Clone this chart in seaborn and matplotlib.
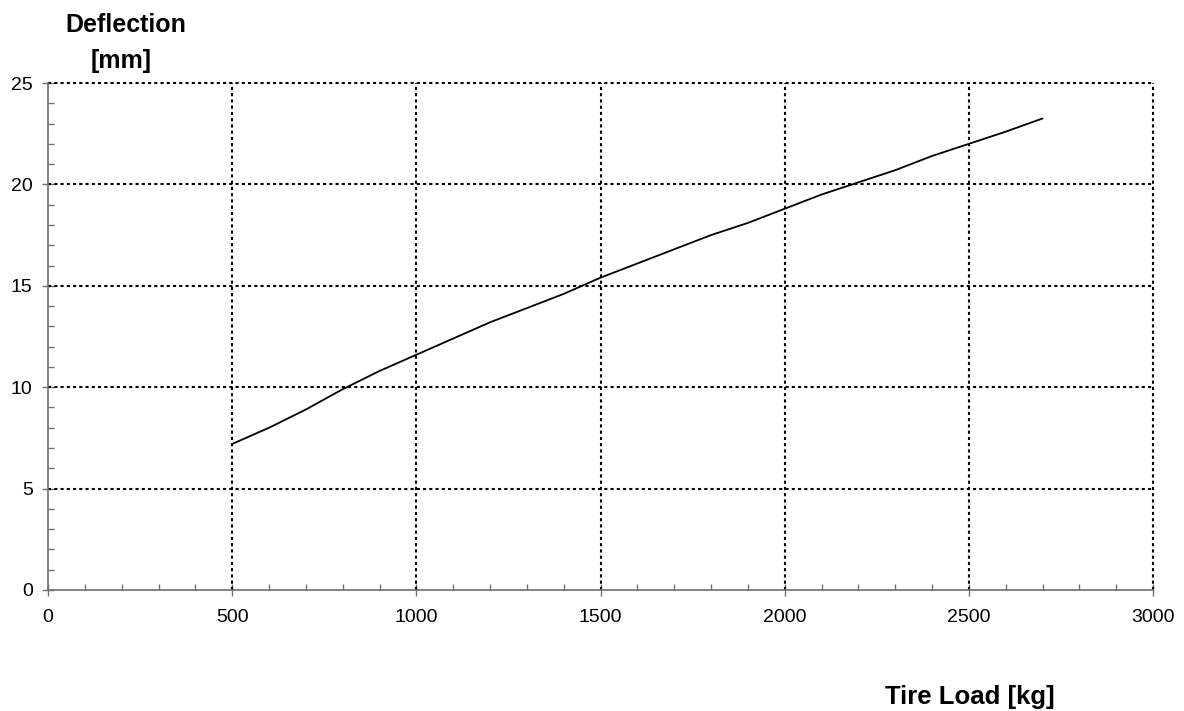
import numpy as np
import pandas as pd
import matplotlib
matplotlib.use("Agg")
import matplotlib.pyplot as plt
from matplotlib.ticker import MultipleLocator
import seaborn as sns

# datos
carga_kg = [500, 600, 700, 800, 900, 1000, 1100, 1200, 1300, 1400, 1500, 1600,
            1700, 1800, 1900, 2000, 2100, 2200, 2300, 2400, 2500, 2600, 2700]
deflexion_mm = [7.2, 8.0, 8.9, 9.9, 10.8, 11.6, 12.4, 13.2, 13.9, 14.6, 15.4, 16.1,
                16.8, 17.5, 18.1, 18.8, 19.5, 20.1, 20.7, 21.4, 22.0, 22.6, 23.25]

x_ticks = [0, 500, 1000, 1500, 2000, 2500, 3000]
y_ticks = [0, 5, 10, 15, 20, 25]

df = pd.DataFrame({"carga": carga_kg, "deflexion": deflexion_mm})

sns.set_style("white")
plt.rcParams['font.family'] = ['Liberation Sans', 'DejaVu Sans']
plt.rcParams['text.color'] = 'black'

fig = plt.figure(figsize=(11.84, 7.11), dpi=100)
ax = fig.add_axes([48 / 1184, 121 / 711, 1105 / 1184, 507 / 711])

sns.lineplot(data=df, x="carga", y="deflexion", color="black", linewidth=1.3, ax=ax)

ax.set_xlim(0, 3000)
ax.set_ylim(0, 25)
ax.set_xticks(x_ticks)
ax.set_yticks(y_ticks)
ax.xaxis.set_minor_locator(MultipleLocator(100))
ax.yaxis.set_minor_locator(MultipleLocator(1))

# rejilla punteada
for xv in x_ticks[1:]:
    ax.axvline(xv, color="black", linewidth=1.5, linestyle=(0, (1.5, 1.5)),
               zorder=1, clip_on=False)
for yv in y_ticks[1:]:
    ax.axhline(yv, color="black", linewidth=1.5, linestyle=(0, (1.5, 1.5)),
               zorder=1, clip_on=False)

for s in ["top", "right"]:
    ax.spines[s].set_visible(False)
for s in ["left", "bottom"]:
    ax.spines[s].set_color("#707070")
    ax.spines[s].set_linewidth(1.2)

ax.tick_params(axis="both", which="both", bottom=True, left=True,
               labelcolor="black")
ax.tick_params(axis="both", which="major", direction="inout", length=8, width=1,
               color="#707070", labelsize=14, pad=7)
ax.tick_params(axis="both", which="minor", direction="in", length=4, width=1,
               color="#707070")
ax.tick_params(axis="x", which="major", pad=10)

ax.set_xlabel("")
ax.set_ylabel("")
fig.text(126 / 1184, 1 - 32 / 711, "Deflection", fontsize=18, fontweight="bold",
         ha="center", va="baseline")
fig.text(121 / 1184, 1 - 68 / 711, "[mm]", fontsize=18, fontweight="bold",
         ha="center", va="baseline")
fig.text(970 / 1184, 1 - 704 / 711, "Tire Load [kg]", fontsize=18.5, fontweight="bold",
         ha="center", va="baseline")

fig.savefig("out.png", dpi=100)
